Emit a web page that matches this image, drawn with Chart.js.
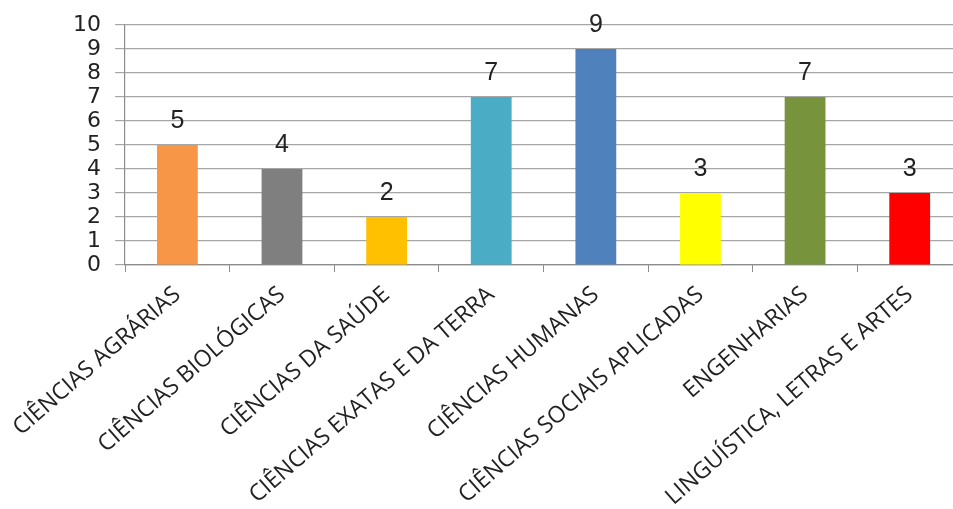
<!DOCTYPE html>
<html>
<head>
<meta charset="utf-8">
<script src="https://cdn.jsdelivr.net/npm/chart.js@4"></script>
<style>
	html, body { margin: 0; padding: 0; background: #fff; overflow: hidden; }
	#wrap { position: absolute; left: 0; top: 0; width: 962px; height: 509px; }
</style>
</head>
<body>
<div id="wrap"><canvas id="chart"></canvas></div>
<script>
// ── Data ────────────────────────────────────────────────────────────────────

const categories = [
	'CIÊNCIAS AGRÁRIAS',
	'CIÊNCIAS BIOLÓGICAS',
	'CIÊNCIAS DA SAÚDE',
	'CIÊNCIAS EXATAS E DA TERRA',
	'CIÊNCIAS HUMANAS',
	'CIÊNCIAS SOCIAIS APLICADAS',
	'ENGENHARIAS',
	'LINGUÍSTICA, LETRAS E ARTES',
]
const counts = [5, 4, 2, 7, 9, 3, 7, 3]
const barColors = ['#F79646', '#7F7F7F', '#FFC000', '#4BACC6', '#4F81BD', '#FFFF00', '#77933C', '#FF0000']
const yTicks = [0, 1, 2, 3, 4, 5, 6, 7, 8, 9, 10]

// ── Value labels above bars ─────────────────────────────────────────────────

const valueLabels = {
	id: 'valueLabels',
	afterDatasetsDraw(chart) {
		const ctx = chart.ctx
		const meta = chart.getDatasetMeta(0)
		ctx.save()
		ctx.font = '25px "Liberation Sans", Arial, sans-serif'
		ctx.fillStyle = '#222'
		ctx.textAlign = 'center'
		ctx.textBaseline = 'alphabetic'
		meta.data.forEach((bar, i) => {
			ctx.fillText(String(counts[i]), bar.x, bar.y - 17)
		})
		ctx.restore()
	},
}

// ── Chart ───────────────────────────────────────────────────────────────────

const ctx = document.getElementById('chart').getContext('2d')
new Chart(ctx, {
	type: 'bar',
	data: {
		labels: categories,
		datasets: [
			{
				data: counts,
				backgroundColor: barColors,
				barPercentage: 0.39,
				categoryPercentage: 1,
			},
		],
	},
	options: {
		responsive: true,
		maintainAspectRatio: false,
		animation: false,
		layout: { padding: { top: 24, right: 0, left: 0, bottom: 0 } },
		plugins: {
			legend: { display: false },
			tooltip: { enabled: false },
		},
		scales: {
			y: {
				min: 0,
				max: 10,
				afterBuildTicks: axis => { axis.ticks = yTicks.map(v => ({ value: v })) },
				afterFit: axis => { axis.width = 124 },
				ticks: {
					color: '#222',
					padding: 14,
					autoSkip: false,
					font: { family: '"DejaVu Sans", sans-serif', size: 22, lineHeight: 1 },
				},
				grid: { color: '#a6a6a6', lineWidth: 1.2, tickLength: 10 },
				border: { color: '#8c8c8c', width: 1.2 },
			},
			x: {
				afterFit: axis => { axis.height = 244 },
				ticks: {
					color: '#222',
					minRotation: 41,
					maxRotation: 41,
					autoSkip: false,
					padding: 9,
					font: { family: '"Open Sans", sans-serif', size: 23 },
				},
				grid: { drawOnChartArea: false, color: '#8c8c8c', tickLength: 7 },
				border: { color: '#8c8c8c', width: 1.2 },
			},
		},
	},
	plugins: [valueLabels],
})
</script>
</body>
</html>
